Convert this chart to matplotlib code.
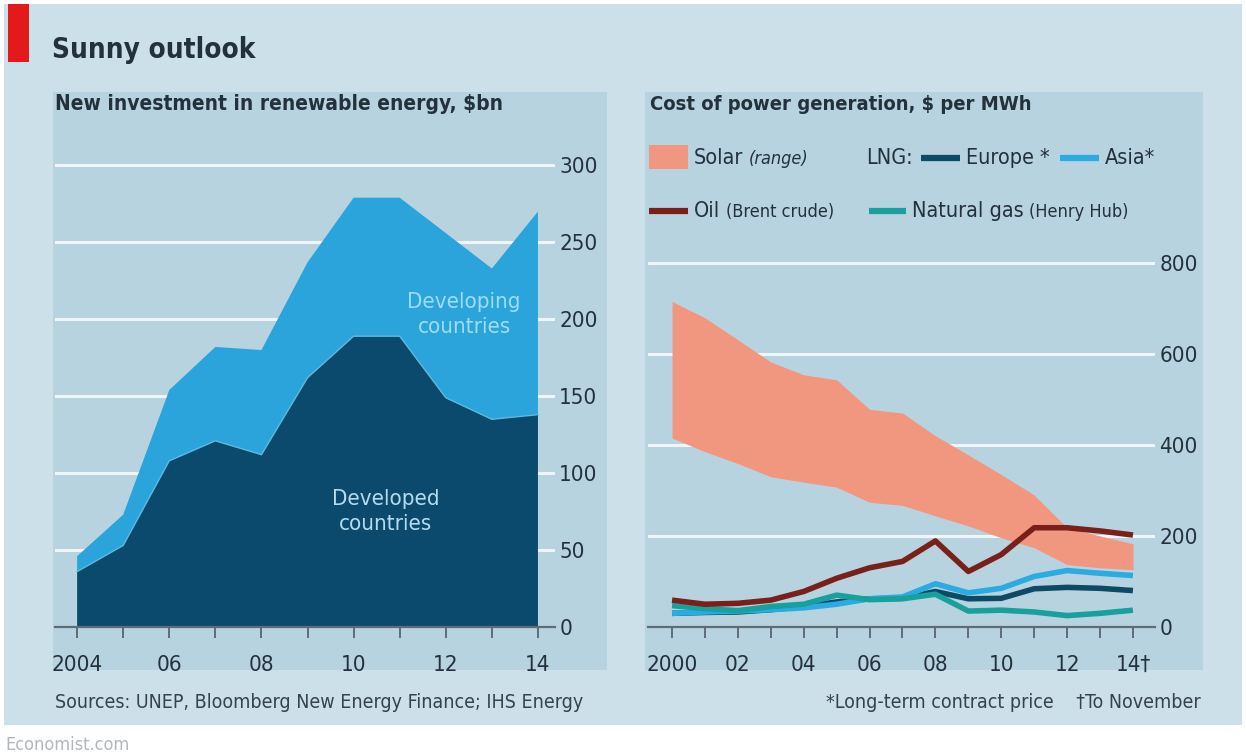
import matplotlib
matplotlib.use("Agg")
import matplotlib.pyplot as plt
from matplotlib.patches import Rectangle
from matplotlib.lines import Line2D
import numpy as np

# ---------------- data ----------------
inv_years = [2004, 2005, 2006, 2007, 2008, 2009, 2010, 2011, 2012, 2013, 2014]
developed = [36, 53, 108, 121, 112, 162, 189, 189, 149, 135, 138]
developing = [10, 20, 46, 61, 68, 75, 90, 90, 107, 98, 132]
inv_ticks = [2004, 2006, 2008, 2010, 2012, 2014]
inv_ticklabels = ["2004", "06", "08", "10", "12", "14"]
inv_yticks = [0, 50, 100, 150, 200, 250, 300]

cost_years = [2000, 2001, 2002, 2003, 2004, 2005, 2006, 2007, 2008, 2009, 2010, 2011, 2012, 2013, 2014]
solar_low = [415, 385, 359, 330, 318, 307, 274, 267, 244, 222, 196, 174, 137, 130, 126]
solar_high = [715, 679, 631, 582, 554, 543, 478, 470, 420, 378, 335, 290, 218, 200, 183]
oil = [59, 50, 52, 59, 78, 107, 130, 144, 189, 122, 159, 218, 218, 211, 202]
lng_asia = [30, 33, 35, 38, 42, 50, 62, 66, 95, 75, 85, 111, 124, 118, 113]
lng_europe = [30, 32, 33, 38, 45, 55, 62, 63, 78, 62, 63, 84, 87, 85, 80]
nat_gas = [47, 40, 36, 45, 50, 70, 60, 62, 72, 35, 37, 33, 25, 30, 37]
cost_ticks = [2000, 2002, 2004, 2006, 2008, 2010, 2012, 2014]
cost_ticklabels = ["2000", "02", "04", "06", "08", "10", "12", "14\u2020"]
cost_yticks = [0, 200, 400, 600, 800]

# ---------------- style ----------------
plt.rcParams["font.family"] = ["DejaVu Sans"]
plt.rcParams["font.stretch"] = "condensed"

W, H = 1246, 756
OUTER = "#cce0e9"
PANEL = "#b8d3e0"
GRID = "#eef6f9"
TXT = "#23313b"
AXC = "#5d6c75"
DARK = "#0c4a6d"
LIGHT = "#2aa4db"
SOLAR = "#f2977f"
OIL = "#7a201b"
EUROPE = "#0d4a66"
ASIA = "#2aace2"
GAS = "#17a09c"

fig = plt.figure(figsize=(W / 100, H / 100), dpi=100)
fig.patch.set_facecolor("white")


def rect(x0, y0, x1, y1):
    return [x0 / W, 1 - y1 / H, (x1 - x0) / W, (y1 - y0) / H]


def fx(x):
    return x / W


def fy(y):
    return 1 - y / H


# backgrounds
fig.add_artist(Rectangle((fx(4), fy(725)), (W - 8) / W, (725 - 4) / H,
                         transform=fig.transFigure, facecolor=OUTER, edgecolor="none", zorder=0))
fig.add_artist(Rectangle((fx(53), fy(670)), (607 - 53) / W, (670 - 92) / H,
                         transform=fig.transFigure, facecolor=PANEL, edgecolor="none", zorder=0))
fig.add_artist(Rectangle((fx(645), fy(670)), (1203 - 645) / W, (670 - 92) / H,
                         transform=fig.transFigure, facecolor=PANEL, edgecolor="none", zorder=0))
# red tag
fig.add_artist(Rectangle((fx(8), fy(62)), 21 / W, 58 / H,
                         transform=fig.transFigure, facecolor="#e3191c", edgecolor="none", zorder=1))

fig.text(fx(52), fy(50), "Sunny outlook", fontsize=20, fontweight="bold", color=TXT,
         va="center", ha="left")
fig.text(fx(55), fy(104), "New investment in renewable energy, $bn", fontsize=15,
         fontweight="bold", color=TXT, va="center", ha="left")
fig.text(fx(650), fy(104), "Cost of power generation, $ per MWh", fontsize=14.5,
         fontweight="bold", color=TXT, va="center", ha="left")


def style_axes(ax, yticks, ymax):
    ax.set_facecolor("none")
    for s in ax.spines.values():
        s.set_visible(False)
    ax.spines["bottom"].set_visible(True)
    ax.spines["bottom"].set_color(AXC)
    ax.spines["bottom"].set_linewidth(1.6)
    ax.yaxis.tick_right()
    ax.set_yticks(yticks)
    ax.set_yticklabels([str(v) for v in yticks])
    ax.tick_params(axis="y", length=0, pad=3, labelsize=16, labelcolor=TXT)
    ax.tick_params(axis="x", which="both", direction="out", length=8, width=1.4,
                   color=AXC, labelsize=16, labelcolor=TXT, pad=12)
    for v in yticks:
        if v > 0:
            ax.axhline(v, color=GRID, lw=2.2, zorder=0.5)
    ax.set_ylim(0, ymax)


# ---------------- left chart ----------------
ax1 = fig.add_axes(rect(55, 150, 555, 627))
style_axes(ax1, inv_yticks, 310)
ax1.set_xlim(2003.52, 2014.37)
ax1.stackplot(inv_years, developed, developing, colors=[DARK, LIGHT], zorder=2,
              edgecolor="none")
ax1.plot(inv_years, developed, color="#5fb8e0", lw=1.0, zorder=3)
ax1.set_xticks(inv_ticks)
ax1.set_xticklabels(inv_ticklabels)
ax1.set_xticks(inv_years, minor=True)
ax1.text(2012.4, 203, "Developing\ncountries", color="#9fdcf5", fontsize=16,
         ha="center", va="center", linespacing=1.3, zorder=4)
ax1.text(2010.7, 75, "Developed\ncountries", color="#b3dcf0", fontsize=16,
         ha="center", va="center", linespacing=1.3, zorder=4)

# ---------------- right chart ----------------
ax2 = fig.add_axes(rect(648, 250, 1155, 627))
style_axes(ax2, cost_yticks, 828)
ax2.set_xlim(1999.27, 2014.67)
ax2.fill_between(cost_years, solar_low, solar_high, color=SOLAR, lw=0, zorder=2)
ax2.plot(cost_years, lng_europe, color=EUROPE, lw=4, zorder=3, solid_capstyle="butt")
ax2.plot(cost_years, lng_asia, color=ASIA, lw=4, zorder=3.1, solid_capstyle="butt")
ax2.plot(cost_years, nat_gas, color=GAS, lw=4, zorder=3.2, solid_capstyle="butt")
ax2.plot(cost_years, oil, color=OIL, lw=4, zorder=3.3, solid_capstyle="butt")
ax2.set_xticks(cost_ticks)
ax2.set_xticklabels(cost_ticklabels)
ax2.set_xticks(cost_years, minor=True)

# ---------------- legend (manual) ----------------
fig.add_artist(Rectangle((fx(649), fy(169)), 39 / W, 24 / H, transform=fig.transFigure,
                         facecolor=SOLAR, edgecolor="none"))


def key(x0, x1, y, c):
    fig.add_artist(Line2D([fx(x0), fx(x1)], [fy(y), fy(y)], transform=fig.transFigure,
                          color=c, lw=4.5, solid_capstyle="butt"))


def flow(prev, s, size, gap=4, **kw):
    return ax2.annotate(s, xy=(1, 0), xycoords=prev, xytext=(gap, 0),
                        textcoords="offset points", fontsize=size, color=TXT,
                        va="bottom", ha="left", annotation_clip=False, **kw)


LS = 15.5
t = fig.text(fx(694), fy(158), "Solar", fontsize=LS, color=TXT, va="center", ha="left")
flow(t, "(range)", 13, style="italic")
fig.text(fx(866), fy(158), "LNG:", fontsize=LS, color=TXT, va="center", ha="left")
key(921, 960, 158, EUROPE)
fig.text(fx(966), fy(158), "Europe *", fontsize=LS, color=TXT, va="center", ha="left")
key(1060, 1099, 158, ASIA)
fig.text(fx(1105), fy(158), "Asia*", fontsize=LS, color=TXT, va="center", ha="left")
key(649, 688, 211, OIL)
t = fig.text(fx(694), fy(211), "Oil", fontsize=LS, color=TXT, va="center", ha="left")
flow(t, "(Brent crude)", 13)
key(869, 906, 211, GAS)
t = fig.text(fx(912), fy(211), "Natural gas", fontsize=LS, color=TXT, va="center", ha="left")
flow(t, "(Henry Hub)", 13)

# ---------------- footers ----------------
fig.text(fx(55), fy(703), "Sources: UNEP, Bloomberg New Energy Finance; IHS Energy",
         fontsize=14, color="#34434d", va="center", ha="left")
fig.text(fx(1201), fy(703), "*Long-term contract price    \u2020To November",
         fontsize=14, color="#34434d", va="center", ha="right")
fig.text(fx(5), fy(745), "Economist.com", fontsize=13, color="#b0b8bc", va="center",
         ha="left")

fig.savefig("out.png", dpi=100, facecolor="white")
